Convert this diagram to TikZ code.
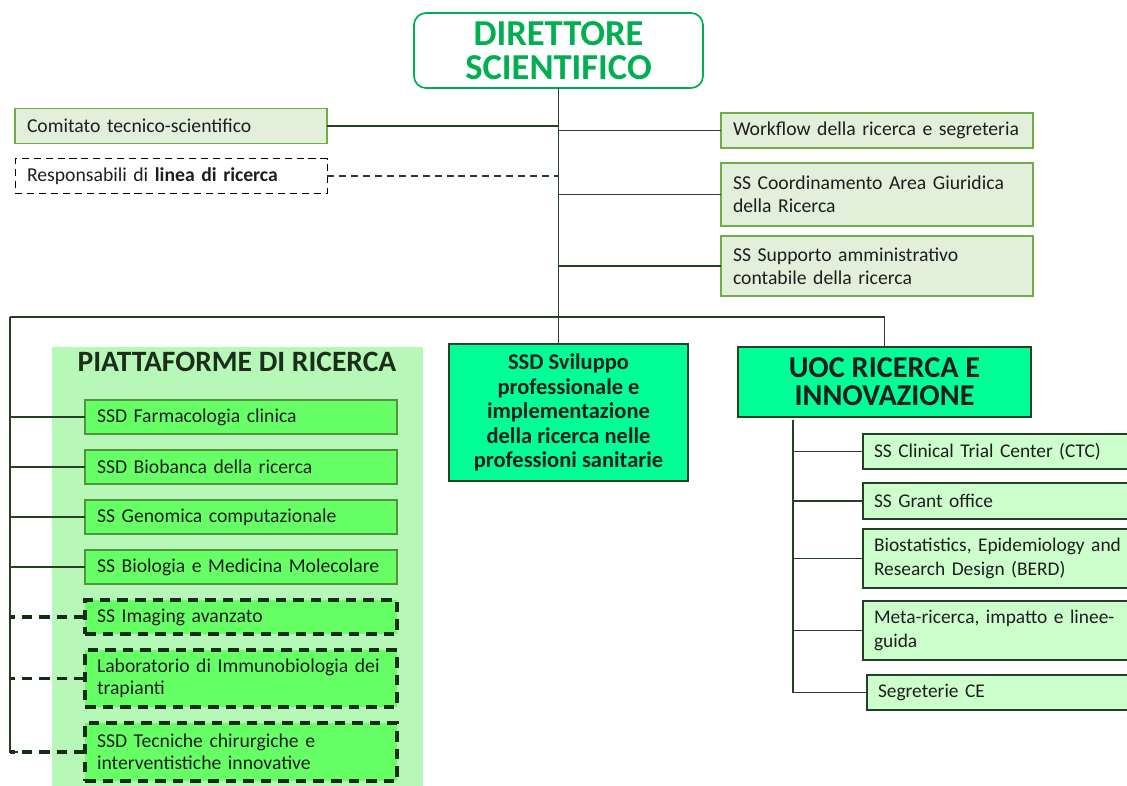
\documentclass[tikz,border=0pt]{standalone}
\usepackage{fontspec}
\setmainfont{Carlito}
\usepackage{tikz}
\usetikzlibrary{positioning}
\definecolor{dirgreen}{RGB}{0,176,80}
\definecolor{stafffill}{RGB}{226,239,218}
\definecolor{staffline}{RGB}{112,173,71}
\definecolor{connline}{RGB}{38,64,38}
\definecolor{dashline}{RGB}{20,45,20}
\definecolor{platbg}{RGB}{183,247,183}
\definecolor{platfill}{RGB}{102,255,102}
\definecolor{platline}{RGB}{80,150,60}
\definecolor{unitfill}{RGB}{0,255,150}
\definecolor{childfill}{RGB}{204,255,204}
\definecolor{darktext}{RGB}{30,30,30}
\definecolor{titletext}{RGB}{27,46,27}

\begin{document}
\begin{tikzpicture}
[node distance = 0.4cm, font=\fontsize{14}{16.5}\selectfont, text=darktext,
% STYLES
every node/.style={inner ysep=0pt, outer sep=0pt},
% The director style is used for the box on top
director/.style={rectangle, rounded corners=0.3cm, draw=dirgreen, line width=1.2pt, fill=white, minimum width=7.225cm, minimum height=1.875cm, align=center, text=dirgreen, font=\bfseries\fontsize{26}{24.5}\selectfont},
% The staff style is used for the boxes beside the director
staff/.style={rectangle, draw=staffline, line width=0.9pt, fill=stafffill, minimum width=7.8cm, text width=7.2cm, inner xsep=0.3cm, align=left, minimum height=0.875cm},
staffdash/.style={staff, draw=black, fill=white, line width=0.7pt, dash pattern=on 5pt off 3.5pt},
% The unit style is used for the two main units
unit/.style={rectangle, draw=connline, line width=0.9pt, fill=unitfill, align=center, font=\bfseries\fontsize{16}{17.5}\selectfont},
% The platform boxes
platbox/.style={rectangle, draw=platline, line width=0.9pt, fill=platfill, minimum width=7.8cm, text width=7.2cm, inner xsep=0.3cm, align=left, minimum height=0.85cm, font=\fontsize{14}{15.5}\selectfont},
platdash/.style={platbox, draw=dashline, line width=2.3pt, dash pattern=on 7.5pt off 5pt},
% The boxes under the UOC
child/.style={rectangle, draw=connline, line width=0.9pt, fill=childfill, minimum width=7cm, text width=6.45cm, inner xsep=0.275cm, align=left, minimum height=0.875cm, font=\fontsize{13.8}{16.5}\selectfont},
conn/.style={draw=connline, line width=0.9pt},
conndash/.style={draw=dashline, line width=2.3pt, dash pattern=on 7.5pt off 5pt}]

\useasboundingbox (0,0) rectangle (28.175,-19.625);

% Draw director and staff
\node [director] (director) at (13.9625,-1.2625) {DIRETTORE\\SCIENTIFICO};
\node [staff, anchor=west] (comitato) at (0.375,-3.15) {Comitato tecnico-scientifico};
\node [staffdash, below=0.375cm of comitato] (responsabili) {Responsabili di \textbf{linea di ricerca}};
\node [staff, anchor=west] (workflow) at (18.025,-3.2625) {Workflow della ricerca e segreteria};
\node [staff, below=0.375cm of workflow, minimum height=1.575cm] (giuridica) {SS Coordinamento Area Giuridica\\della Ricerca};
\node [staff, below=0.25cm of giuridica, minimum height=1.5cm] (amministrativo) {SS Supporto amministrativo\\contabile della ricerca};

% Draw main units
\node [unit, minimum width=5.975cm, minimum height=3.425cm] (sviluppo) at (14.2125,-10.3125) {SSD Sviluppo\\professionale e\\implementazione\\della ricerca nelle\\professioni sanitarie};
\node [unit, minimum width=7.325cm, minimum height=1.75cm, font=\bfseries\fontsize{21.5}{20}\selectfont] (uoc) at (22.1125,-9.55) {UOC RICERCA E\\INNOVAZIONE};

%%%%%%%%%%%%%%%
% Platforms
\node [rectangle, fill=platbg, minimum width=9.275cm, minimum height=11.1cm, anchor=north west] (platarea) at (1.3,-8.675) {};
\node [font=\bfseries\fontsize{21}{20}\selectfont, text=titletext] (plattitle) at (5.925,-9.05) {PIATTAFORME DI RICERCA};
\node [platbox, anchor=north] (farmacologia) at (6.025,-10.0) {SSD Farmacologia clinica};
\node [platbox, below=of farmacologia] (biobanca) {SSD Biobanca della ricerca};
\node [platbox, below=of biobanca] (genomica) {SS Genomica computazionale};
\node [platbox, below=of genomica] (biologia) {SS Biologia e Medicina Molecolare};
\node [platdash, below=of biologia] (imaging) {SS Imaging avanzato};
\node [platdash, below=of imaging, minimum height=1.425cm] (immuno) {Laboratorio di Immunobiologia dei\\trapianti};
\node [platdash, below=of immuno, minimum height=1.45cm] (tecniche) {SSD Tecniche chirurgiche e\\interventistiche innovative};

% UOC children
\node [child] (ctc) at (25.075,-11.2875) {SS Clinical Trial Center (CTC)};
\node [child, below=0.35cm of ctc, minimum height=0.9cm] (grant) {SS Grant office};
\node [child, below=0.25cm of grant, minimum height=1.475cm] (berd) {Biostatistics, Epidemiology and\\Research Design (BERD)};
\node [child, below=0.325cm of berd, minimum height=1.475cm] (meta) {Meta-ricerca, impatto e linee-\\guida};
\node [child, below=0.375cm of meta, xshift=0.1cm] (segreterie) {Segreterie CE};
%%%%%%%%%%%%%%%%

% Draw the links
\coordinate (busL) at (0.25,-7.925);
\coordinate (busR) at (uoc.north |- busL);
\coordinate (uocL) at (19.825,-10.5);

\draw[conn] (director.south) -- (director.south |- sviluppo.north);
\draw[conn] (comitato.east) -- (comitato.east -| director.south);
\draw[conn, dash pattern=on 5pt off 3.5pt] (responsabili.east) -- (responsabili.east -| director.south);
\draw[conn] (workflow.west) -- (workflow.west -| director.south);
\draw[conn] (giuridica.west) -- (giuridica.west -| director.south);
\draw[conn] (amministrativo.west) -- (amministrativo.west -| director.south);
\draw[conn] (busL) -- (busR) -- (uoc.north);
\draw[conn] (busL) -- (busL |- tecniche.west) -- ++(0.2,0);

\foreach \p in {farmacologia, biobanca, genomica, biologia}
  \draw[conn] (\p.west) -- (\p.west -| busL);
\foreach \p in {imaging, immuno, tecniche}
  \draw[conndash] (\p.west) -- (\p.west -| busL);

\draw[conn] (uocL) |- (segreterie.west);
\foreach \p in {ctc, grant, berd, meta}
  \draw[conn] (\p.west) -- (\p.west -| uocL);

\end{tikzpicture}
\end{document}
